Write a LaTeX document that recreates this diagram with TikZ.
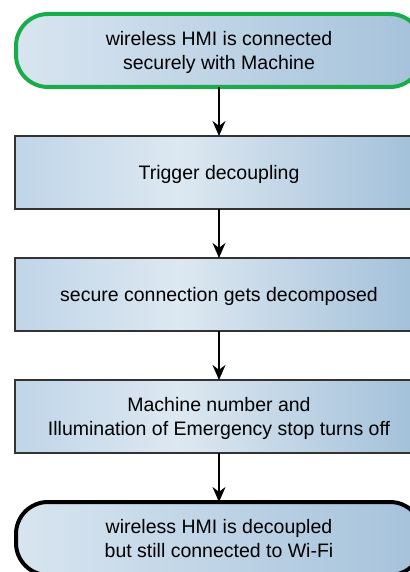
\documentclass[tikz,border=0pt]{standalone}
\usepackage{fontspec}
\setmainfont{Liberation Sans}
\usetikzlibrary{positioning,chains,arrows.meta}

\definecolor{boxL}{RGB}{192,213,232}
\definecolor{boxM}{RGB}{221,232,241}
\definecolor{boxR}{RGB}{161,191,217}
\definecolor{termL}{RGB}{216,229,240}
\definecolor{termR}{RGB}{165,194,219}
\definecolor{startgreen}{RGB}{24,172,74}
\definecolor{boxline}{RGB}{51,51,51}
\pgfdeclarehorizontalshading{boxshade}{100bp}{color(0bp)=(boxL); color(25bp)=(boxL); color(45bp)=(boxM); color(75bp)=(boxR); color(100bp)=(boxR)}

\begin{document}
\begin{tikzpicture}[x=1pt, y=1pt, font=\fontsize{19.5pt}{23.5pt}\selectfont,
    proc/.style={rectangle, draw=boxline, line width=1.5pt, shading=boxshade, minimum width=408pt, minimum height=73pt, align=center, text depth=-7pt, outer sep=0pt},
    term/.style={rectangle, rounded corners=32pt, line width=4pt, left color=termL, right color=termR, minimum width=406pt, minimum height=73pt, align=center, text depth=-7pt, outer sep=0pt},
    >={Stealth[length=15pt,width=13pt]}, start chain=going below, node distance=49pt]
            \useasboundingbox (0,0) rectangle (409,-572);
            \node[term,on chain,draw=startgreen] (a) at (219,-50.5) {wireless HMI is connected\\securely with Machine};
            \node[proc,on chain] (b) {Trigger decoupling};
            \node[proc,on chain] (c) {secure connection gets decomposed};
            \node[proc,on chain] (d) {Machine number and\\Illumination of Emergency stop turns off};
            \node[term,on chain,draw=black] (e) {wireless HMI is decoupled\\but still connected to Wi-Fi};
            \draw[->,line width=1.3pt] (a) -- (b);
            \draw[->,line width=1.3pt] (b) -- (c);
            \draw[->,line width=1.3pt] (c) -- (d);
            \draw[->,line width=1.3pt] (d) -- (e);
        \end{tikzpicture}
\end{document}
